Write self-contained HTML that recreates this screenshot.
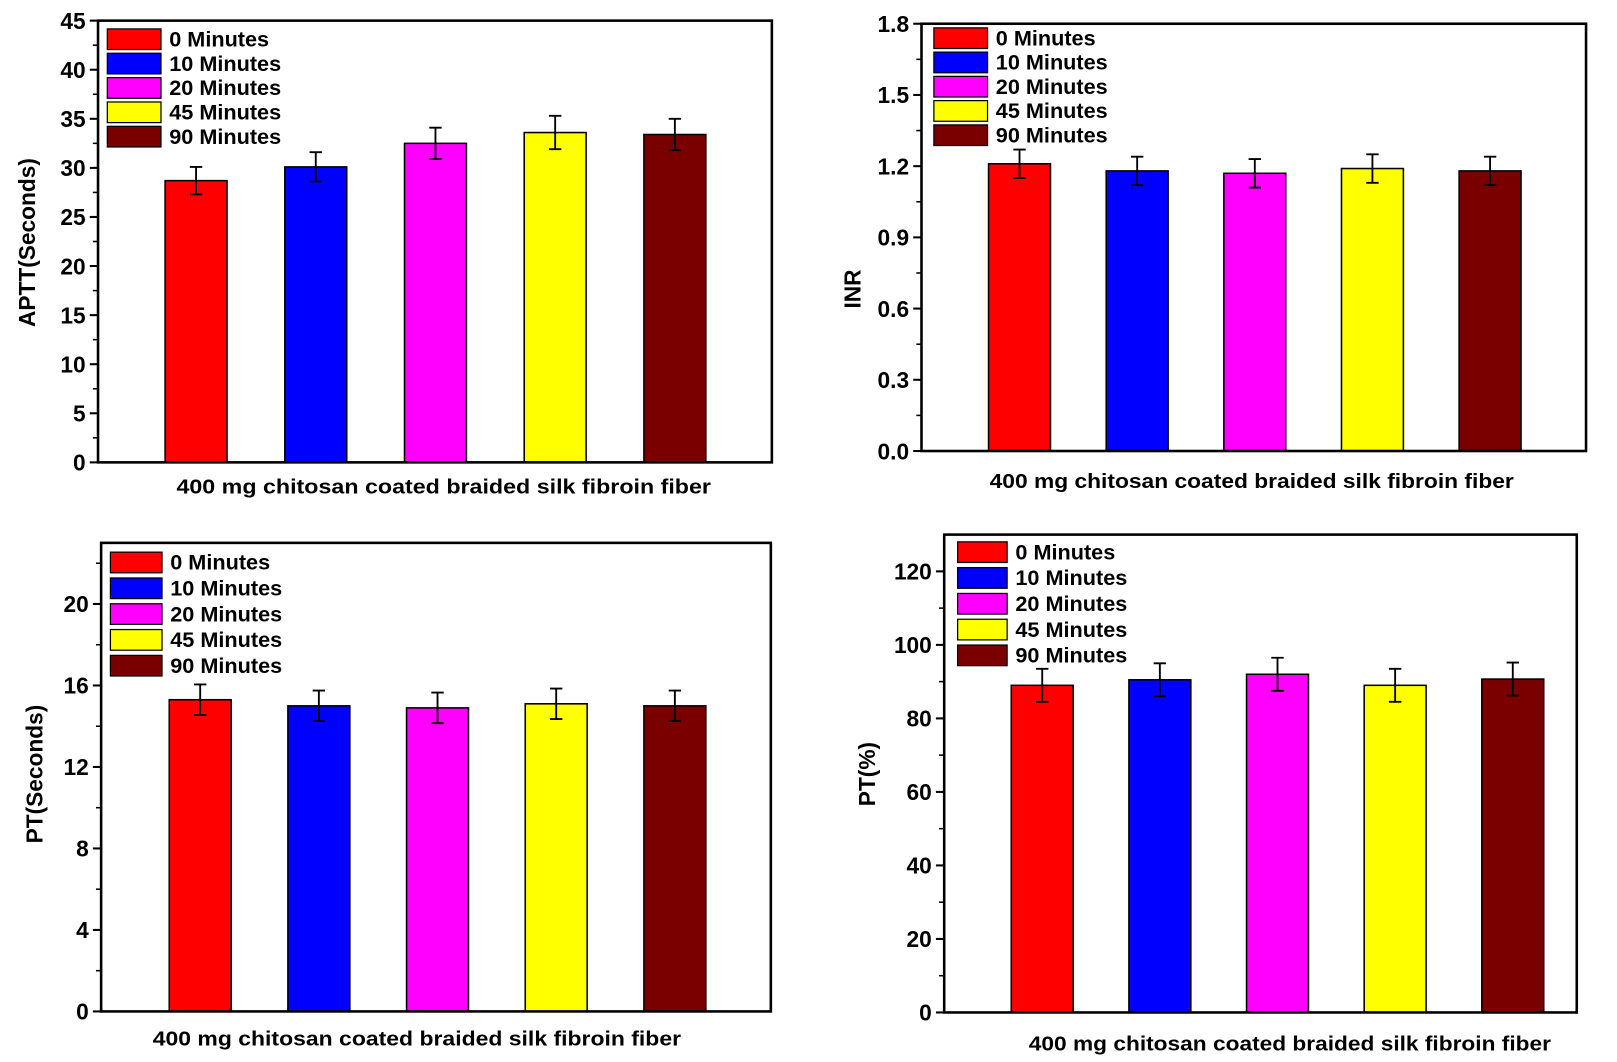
<!DOCTYPE html>
<html><head><meta charset="utf-8"><style>
body{margin:0;background:#fff;}
svg{display:block;font-family:"Liberation Sans",Arial,sans-serif;font-weight:bold;}
</style></head><body>
<svg id="c" width="1617" height="1062" viewBox="0 0 1567 1029" preserveAspectRatio="none"></svg>
<script>
const categories=["0 Minutes","10 Minutes","20 Minutes","45 Minutes","90 Minutes"];
const colors=["#ff0000","#0000ff","#ff00ff","#ffff00","#7a0000"];
const apttValues=[28.7,30.1,32.5,33.6,33.4];
const apttErrors=[1.4,1.5,1.6,1.7,1.6];
const apttTicks=[0,5,10,15,20,25,30,35,40,45];
const inrValues=[1.21,1.18,1.17,1.19,1.18];
const inrErrors=[0.06,0.06,0.06,0.06,0.06];
const inrTicks=["0.0","0.3","0.6","0.9","1.2","1.5","1.8"];
const ptsValues=[15.3,15.0,14.9,15.1,15.0];
const ptsErrors=[0.75,0.75,0.75,0.75,0.75];
const ptsTicks=[0,4,8,12,16,20];
const ptpValues=[89,90.5,92,89,90.7];
const ptpErrors=[4.5,4.5,4.5,4.5,4.5];
const ptpTicks=[0,20,40,60,80,100,120];
const xLabel="400 mg chitosan coated braided silk fibroin fiber";

const svg=document.getElementById('c');
const NS="http://www.w3.org/2000/svg";
function mk(tag,attrs,parent){const e=document.createElementNS(NS,tag);for(const k in attrs)e.setAttribute(k,attrs[k]);(parent||svg).appendChild(e);return e;}

function panel(p){
  const g=mk('g',{});
  
  
  const y=v=>p.y0-(v-p.min)/(p.max-p.min)*(p.y0-p.y1);
  p.values.forEach((v,i)=>{
    const cx=p.cx0+i*p.step;
    const r=mk('rect',{x:cx-p.bw/2,y:y(v),width:p.bw,height:p.y0-y(v),fill:colors[i],stroke:'#000','stroke-width':1.5},g);
    
    
    const e=p.errors[i];
    const eb=mk('path',{d:`M${cx},${y(v+e)}V${y(v-e)}M${cx-6},${y(v+e)}H${cx+6}M${cx-6},${y(v-e)}H${cx+6}`,stroke:'#000','stroke-width':1.8,fill:'none'},g);
    
    
  });
  const f=mk('rect',{x:p.x0,y:p.y1,width:p.x1-p.x0,height:p.y0-p.y1,fill:'none',stroke:'#000','stroke-width':2.5},g);
  
  
  p.ticks.forEach((t,i)=>{
    const v=parseFloat(t);const ty=y(v);
    mk('line',{x1:p.x0-8,x2:p.x0,y1:ty,y2:ty,stroke:'#000','stroke-width':2},g);
    const tx=mk('text',{x:p.x0-12,y:ty+8,'text-anchor':'end','font-size':22},g);
    tx.textContent=t;
    
    
    if(i<p.ticks.length-1){const nv=(v+parseFloat(p.ticks[i+1]))/2;mk('line',{x1:p.x0-5,x2:p.x0,y1:y(nv),y2:y(nv),stroke:'#000','stroke-width':1.5},g);}
  });
  const lt=parseFloat(p.ticks[p.ticks.length-1]);
  const nv2=lt+(lt-parseFloat(p.ticks[p.ticks.length-2]))/2;
  if(y(nv2)>p.y1){mk('line',{x1:p.x0-5,x2:p.x0,y1:y(nv2),y2:y(nv2),stroke:'#000','stroke-width':1.5},g);}
  const yt=mk('text',{x:0,y:0,'text-anchor':'middle','font-size':22,transform:`translate(${p.ytx},${p.yty}) rotate(-90)`},g);
  yt.textContent=p.ytitle;
  
  
  const xt=mk('text',{x:p.xlx,y:p.xly,'text-anchor':'middle','font-size':20,textLength:p.xlw,lengthAdjust:'spacingAndGlyphs'},g);
  xt.textContent=xLabel;
  
  
  categories.forEach((c,i)=>{
    const ly=p.ly+i*p.lstep;
    const s=mk('rect',{x:p.lx,y:ly-10,width:p.lw,height:20,fill:colors[i],stroke:'#000','stroke-width':1.2},g);
    
    
    const t=mk('text',{x:p.lx+p.lw+8,y:ly+7,'font-size':21},g);
    t.textContent=c;
    
    
  });
}
panel({name:'aptt-chart',values:apttValues,errors:apttErrors,ticks:apttTicks.map(String),min:0,max:45,x0:95,x1:748,y0:448,y1:20,cx0:190,step:116,bw:60,ytitle:'APTT(Seconds)',ytx:34,yty:235,xlx:430,xly:478,xlw:518,lx:104,lw:52,ly:38,lstep:23.6});
panel({name:'inr-chart',values:inrValues,errors:inrErrors,ticks:inrTicks,min:0,max:1.8,x0:893,x1:1537,y0:437,y1:23,cx0:988,step:114,bw:60,ytitle:'INR',ytx:834,yty:280,xlx:1213,xly:473,xlw:508,lx:905,lw:52,ly:37,lstep:23.5});
panel({name:'pt-seconds-chart',values:ptsValues,errors:ptsErrors,ticks:ptsTicks.map(String),min:0,max:23,x0:98,x1:747,y0:980,y1:526,cx0:194,step:115,bw:60,ytitle:'PT(Seconds)',ytx:41,yty:750,xlx:404,xly:1013,xlw:512,lx:107,lw:50,ly:545,lstep:25});
panel({name:'pt-percent-chart',values:ptpValues,errors:ptpErrors,ticks:ptpTicks.map(String),min:0,max:130,x0:915,x1:1528,y0:981,y1:518,cx0:1010,step:114,bw:60,ytitle:'PT(%)',ytx:848,yty:750,xlx:1250,xly:1018,xlw:506,lx:928,lw:48,ly:535,lstep:25});
</script>
</body></html>
